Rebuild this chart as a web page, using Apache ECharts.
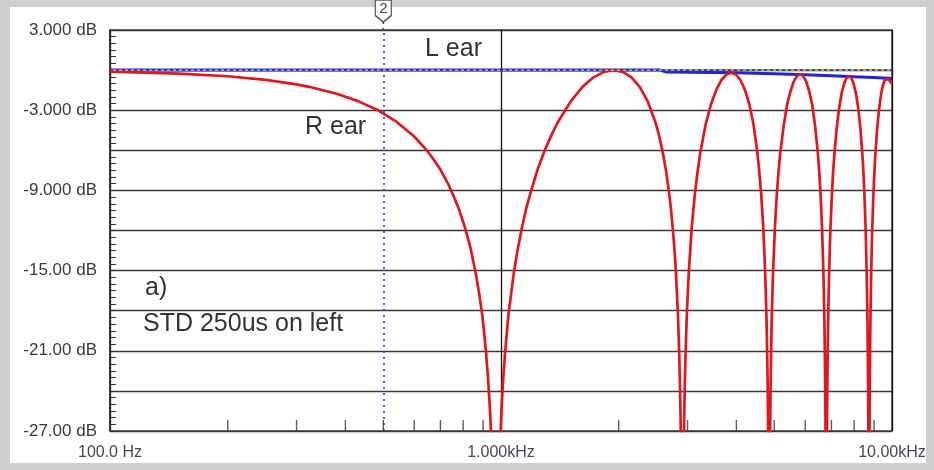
<!DOCTYPE html>
<html>
<head>
<meta charset="utf-8">
<script src="https://cdn.jsdelivr.net/npm/echarts@6/dist/echarts.min.js"></script>
<style>
html,body{margin:0;padding:0;background:#cfcfcf;}
#chart{width:934px;height:470px;}
</style>
</head>
<body>
<div id="chart"></div>
<script>
// ---- data ----
const xTickValues = [100, 1000, 10000];
const xTickTexts = ['100.0 Hz', '1.000kHz', '10.00kHz'];
const xMinorTicks = [200,300,400,500,600,700,800,900,2000,3000,4000,5000,6000,7000,8000,9000];
const yLabelValues = [3, -3, -9, -15, -21, -27];
const yLabelTexts = ['3.000 dB', '-3.000 dB', '-9.000 dB', '-15.00 dB', '-21.00 dB', '-27.00 dB'];

// L ear (blue)
const blueFreq = [100, 2550, 2650, 4000, 5000, 6000, 7000, 8000, 9000, 10000];
const blueDb   = [0, 0, -0.15, -0.2, -0.28, -0.35, -0.42, -0.5, -0.56, -0.62];

// reference 0 dB line
const refFreq = [100, 10000];
const refDb = [0, 0];

// R ear (red)
const redFreq = [
 100,150,200,250,300,323,380,431,485,539,600,647,680,701,730,754,780,808,835,862,880,895,905,916,927,938,949,970,
 992,1002,1013,1024,1045,1078,1100,1132,1160,1186,1239,1293,1350,1401,1509,1617,1724,1832,1940,2048,2156,2263,2371,2479,2530,2587,2641,2694,2720,2748,2780,2802,2835,2856,2867,2878,2889,2910,
 2932,2942,2953,2964,2985,3018,3072,3126,3179,3233,3341,3449,3557,3664,3772,3880,3988,4096,4203,4311,4419,4527,4581,4634,4688,4742,4775,4796,4807,4818,4829,4850,
 4872,4882,4893,4904,4925,4958,5012,5066,5119,5173,5281,5389,5497,5604,5712,5820,5928,6036,6143,6251,6359,6467,6521,6574,6628,6682,6715,6736,6747,6758,6769,6790,
 6812,6822,6833,6844,6865,6898,6952,7006,7059,7113,7221,7329,7437,7544,7652,7760,7868,7976,8083,8191,8299,8407,8461,8514,8568,8622,8655,8676,8687,8698,8709,8730,
 8752,8762,8773,8784,8805,8838,8892,8946,8999,9053,9161,9269,9377,9484,9592,9700,9808,9916,10000
];
const redDb = [
 -0.11,-0.26,-0.46,-0.73,-1.07,-1.25,-1.77,-2.32,-3.01,-3.84,-4.97,-6.02,-6.89,-7.48,-8.43,-9.32,-10.37,-11.74,-13.27,-15.21,-16.76,-18.28,-19.57,-21.19,-23.13,-25.63,-29.14,-40,
 -29.14,-25.63,-23.13,-21.19,-18.28,-15.21,-13.6,-11.74,-10.37,-9.32,-7.48,-6.02,-4.77,-3.84,-2.32,-1.25,-0.54,-0.13,0,-0.13,-0.54,-1.25,-2.32,-3.84,-4.77,-6.02,-7.48,-9.32,-10.37,-11.74,-13.59,-15.21,-18.28,-21.19,-23.13,-25.63,-29.14,-40,
 -29.3,-25.8,-23.3,-21.4,-18.5,-15.4,-11.9,-9.5,-7.7,-6.2,-4.0,-2.5,-1.45,-0.74,-0.33,-0.2,-0.33,-0.74,-1.45,-2.5,-4.0,-6.2,-7.7,-9.5,-11.9,-15.4,-18.5,-21.4,-23.3,-25.8,-29.3,-40,
 -29.5,-26.0,-23.5,-21.5,-18.6,-15.5,-12.1,-9.6,-7.8,-6.3,-4.2,-2.6,-1.6,-0.86,-0.45,-0.32,-0.45,-0.86,-1.6,-2.6,-4.2,-6.3,-7.8,-9.6,-12.1,-15.5,-18.6,-21.5,-23.5,-26.0,-29.5,-40,
 -29.6,-26.1,-23.6,-21.7,-18.7,-15.7,-12.2,-9.8,-7.9,-6.5,-4.3,-2.8,-1.7,-1.0,-0.59,-0.46,-0.59,-1.0,-1.7,-2.8,-4.3,-6.5,-7.9,-9.8,-12.2,-15.7,-18.7,-21.7,-23.6,-26.1,-29.6,-40,
 -29.7,-26.2,-23.7,-21.8,-18.9,-15.8,-12.3,-9.9,-8.1,-6.6,-4.4,-2.9,-1.8,-1.1,-0.72,-0.6,-0.68,-0.9,-1.0
];

const cursorFreq = 500;
const cursorLabel = '2';
const annotations = [
  {text: 'L ear', x: 425, y: 51},
  {text: 'R ear', x: 305, y: 129},
  {text: 'a)', x: 145, y: 290},
  {text: 'STD 250us on left', x: 143, y: 326}
];

// ---- chart ----
const chart = echarts.init(document.getElementById('chart'), null, {renderer: 'canvas'});
const pair = (xs, ys) => xs.map((x, i) => [x, ys[i]]);
const FONT = '"Liberation Sans", Arial, sans-serif';

const baseGraphic = [
  {type: 'rect', z: -10, silent: true, shape: {x: 10, y: 7, width: 916, height: 456}, style: {fill: '#ffffff'}}
].concat(annotations.map(a => ({
  type: 'text', z: 100, left: a.x, top: a.y - 14,
  style: {text: a.text, fill: '#333', font: '25px ' + FONT}
})));

const option = {
  animation: false,
  backgroundColor: 'transparent',
  graphic: baseGraphic,
  grid: {left: 110, top: 30, right: 42, bottom: 39, show: true, backgroundColor: '#fff', borderColor: '#444', borderWidth: 1.5},
  xAxis: {
    type: 'log', logBase: 10, min: 100, max: 10000,
    axisLine: {show: true, lineStyle: {color: '#333', width: 1.5}},
    axisTick: {show: true, inside: false, length: 6, lineStyle: {color: '#222', width: 1.2}},
    minorTick: {show: false},
    splitLine: {show: true, lineStyle: {color: '#111', width: 1.3}},
    axisLabel: {
      margin: 14, color: '#4a4458', fontSize: 16, fontFamily: FONT,
      formatter: v => { const i = xTickValues.findIndex(t => Math.abs(t - v) < 1e-6 * t); return i >= 0 ? xTickTexts[i] : ''; }
    }
  },
  yAxis: {
    type: 'value', min: -27, max: 3, interval: 3,
    axisLine: {show: true, lineStyle: {color: '#333', width: 1.5}},
    axisTick: {show: true, inside: true, length: 8, lineStyle: {color: '#333'}},
    minorTick: {show: true, splitNumber: 6, length: 6, lineStyle: {color: '#333'}},
    splitLine: {show: true, lineStyle: {color: '#3a3a3a', width: 1.4}},
    axisLabel: {
      margin: 13, color: '#3a3a3a', fontSize: 17, fontFamily: FONT,
      formatter: v => { const i = yLabelValues.findIndex(t => Math.abs(t - v) < 1e-6); return i >= 0 ? yLabelTexts[i] : ''; }
    }
  },
  series: [
    {
      name: 'L ear', type: 'line', data: pair(blueFreq, blueDb), showSymbol: false, z: 3,
      lineStyle: {color: '#2222d8', width: 3}
    },
    {
      name: 'R ear', type: 'line', data: pair(redFreq, redDb), showSymbol: false, z: 4, clip: true,
      lineStyle: {color: '#e3151d', width: 2.7}
    },
    {
      name: 'ref', type: 'line', data: pair(refFreq, refDb), showSymbol: false, z: 5,
      lineStyle: {color: '#f6f2b8', width: 1, type: [3, 3], dashOffset: 3}
    },
    {
      name: 'ref2', type: 'line', data: pair(refFreq, refDb), showSymbol: false, z: 6,
      lineStyle: {color: '#555', width: 1, type: [3, 3]},
      markLine: {
        silent: true, symbol: 'none', animation: false,
        label: {show: false},
        lineStyle: {color: '#3b3bd6', width: 1.6, type: [2, 4]},
        data: [{xAxis: cursorFreq}]
      },
      markPoint: {
        silent: true, animation: false,
        symbol: 'path://M0,0 L10,0 L10,12 L5,17 L0,12 Z',
        symbolSize: [16, 22], symbolOffset: [0, -19],
        itemStyle: {color: '#fff', borderColor: '#555', borderWidth: 1.4},
        label: {show: true, formatter: cursorLabel, color: '#444', fontSize: 15, fontFamily: FONT, offset: [0, -2]},
        data: [{coord: [cursorFreq, 3]}]
      }
    },
    {
      name: 'minor ticks', type: 'scatter', data: xMinorTicks.map(f => [f, -27]), z: 7, clip: false,
      symbol: 'rect', symbolSize: [1.4, 11], symbolOffset: [0, -5.5],
      itemStyle: {color: '#333'}, silent: true
    }
  ]
};
chart.setOption(option);

// dotted cursor stub between the marker and the plot top, placed through the axis scale
const cx = chart.convertToPixel({xAxisIndex: 0}, cursorFreq);
const topY = chart.convertToPixel({yAxisIndex: 0}, 3);
chart.setOption({
  graphic: baseGraphic.concat([{
    type: 'line', z: 50, silent: true,
    shape: {x1: cx, y1: topY - 8, x2: cx, y2: topY},
    style: {stroke: '#3b3bd6', lineWidth: 1.6, lineDash: [2, 4]}
  }])
});
</script>
</body>
</html>
